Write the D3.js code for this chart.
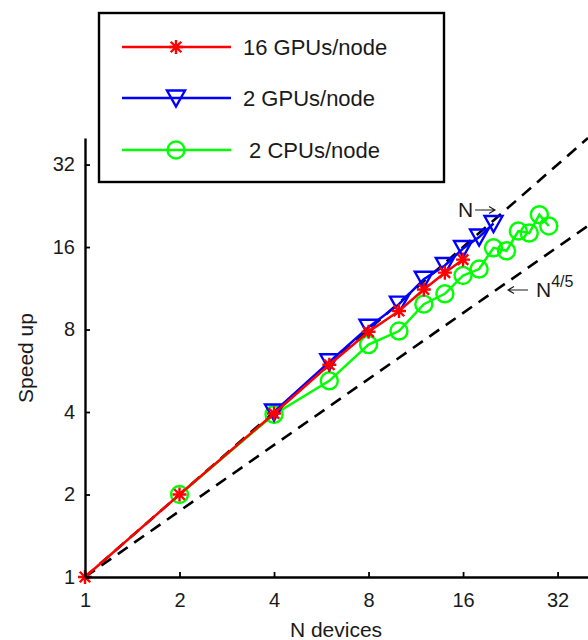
<!DOCTYPE html>
<html>
<head>
<meta charset="utf-8">
<script src="https://cdn.jsdelivr.net/npm/d3@7"></script>
<style>
  body { margin: 0; background: #fff; }
  svg { display: block; font-family: "Liberation Sans", Arial, sans-serif; }
  .tick text { fill: #1a1a1a; }
</style>
</head>
<body>
<svg id="chart" width="588" height="640"></svg>
<script>
// values
const ticks = [1, 2, 4, 8, 16, 32];

const gpu16X = [1, 2, 4, 6, 8, 10, 12, 14, 16];
const gpu16Y = [1, 2, 3.95, 5.95, 7.85, 9.35, 11.2, 12.9, 14.4];

const gpu2X = [4, 6, 8, 10, 12, 14, 16, 18, 20];
const gpu2Y = [4.0, 6.1, 8.15, 9.9, 12.2, 13.7, 15.8, 17.4, 19.5];

const cpu2X = [2, 4, 6, 8, 10, 12, 14, 16, 18, 20, 22, 24, 26, 28, 30];
const cpu2Y = [2, 3.92, 5.2, 7.05, 7.9, 9.9, 10.8, 12.6, 13.3, 15.9, 15.5, 18.3, 18.0, 21.0, 19.1];

const series = [
  { name: '16 GPUs/node', x: gpu16X, y: gpu16Y, color: '#ff0000', marker: 'star' },
  { name: '2 GPUs/node', x: gpu2X, y: gpu2Y, color: '#0000ff', marker: 'tri' },
  { name: ' 2 CPUs/node', x: cpu2X, y: cpu2Y, color: '#00ff00', marker: 'circle' },
];

const svg = d3.select('#chart');
const xScale = d3.scaleLog().base(2).domain([1, 40]).range([85, 588]);
const yScale = d3.scaleLog().base(2).domain([1, 40]).range([577, 138]);

// reference lines N and N^(4/5)
const refX = [1, 40];
const refLine = (p) => d3.line()
  .x((d) => xScale(d))
  .y((d) => yScale(Math.pow(d, p)));
[1, 0.8].forEach((p) => {
  svg.append('path')
    .datum(refX)
    .attr('d', refLine(p))
    .attr('fill', 'none')
    .attr('stroke', '#000')
    .attr('stroke-width', 2.6)
    .attr('stroke-dasharray', '12,8');
});

function drawMarker(g, type, color) {
  if (type === 'star') {
    const s = 7;
    const d = s * 0.75;
    g.append('path')
      .attr('d', `M0,${-s}V${s}M${-s},0H${s}M${-d},${-d}L${d},${d}M${-d},${d}L${d},${-d}`)
      .attr('stroke', color).attr('stroke-width', 2.4).attr('fill', 'none');
  } else if (type === 'tri') {
    g.append('path')
      .attr('d', 'M-9,-7.5L9,-7.5L0,8.5Z')
      .attr('stroke', color).attr('stroke-width', 2.4).attr('fill', 'none');
  } else {
    g.append('circle').attr('r', 8.5)
      .attr('stroke', color).attr('stroke-width', 2.4).attr('fill', 'none');
  }
}

const line = d3.line()
  .x((d) => xScale(d[0]))
  .y((d) => yScale(d[1]));

// draw in reverse so red ends up on top of the others, like the reference
series.slice().reverse().forEach((s) => {
  const pts = s.x.map((v, i) => [v, s.y[i]]);
  svg.append('path')
    .datum(pts)
    .attr('d', line)
    .attr('fill', 'none')
    .attr('stroke', s.color)
    .attr('stroke-width', 2.5);
  pts.forEach((p) => {
    const g = svg.append('g').attr('transform', `translate(${xScale(p[0])},${yScale(p[1])})`);
    drawMarker(g, s.marker, s.color);
  });
});

// axes
const xAxis = d3.axisBottom(xScale).tickValues(ticks).tickFormat(d3.format('d'))
  .tickSizeInner(-5).tickSizeOuter(0).tickPadding(16);
const yAxis = d3.axisLeft(yScale).tickValues(ticks).tickFormat(d3.format('d'))
  .tickSizeInner(-5).tickSizeOuter(0).tickPadding(10);

const gx = svg.append('g').attr('transform', 'translate(0,577)').call(xAxis);
const gy = svg.append('g').attr('transform', 'translate(85,0)').call(yAxis);
[gx, gy].forEach((g) => {
  g.select('.domain').attr('stroke', '#000').attr('stroke-width', 2.4);
  g.selectAll('.tick line').attr('stroke', '#000').attr('stroke-width', 1.8);
  g.selectAll('.tick text').attr('font-size', 20).attr('font-family', '"Liberation Sans", Arial, sans-serif');
});
gx.selectAll('.tick text').attr('dy', '0.71em');

// axis labels
svg.append('text')
  .attr('x', 336).attr('y', 637)
  .attr('text-anchor', 'middle')
  .attr('font-size', 21).attr('fill', '#1a1a1a')
  .text('N devices');
svg.append('text')
  .attr('transform', 'translate(33,358) rotate(-90)')
  .attr('text-anchor', 'middle')
  .attr('font-size', 21).attr('fill', '#1a1a1a')
  .text('Speed up');

// annotations
svg.append('text').attr('x', 458).attr('y', 217).attr('font-size', 21).attr('fill', '#1a1a1a').text('N');
svg.append('path').attr('d', 'M475,210H495M489,206.5L495,210L489,213.5')
  .attr('stroke', '#1a1a1a').attr('stroke-width', 1.1).attr('fill', 'none');
const t2 = svg.append('text').attr('x', 536).attr('y', 297).attr('font-size', 21).attr('fill', '#1a1a1a');
t2.append('tspan').text('N');
t2.append('tspan').attr('dy', -10).attr('font-size', 16).text('4/5');
svg.append('path').attr('d', 'M508,290H528M514,286.5L508,290L514,293.5')
  .attr('stroke', '#1a1a1a').attr('stroke-width', 1.1).attr('fill', 'none');

// legend
const legend = svg.append('g');
legend.append('rect')
  .attr('x', 99).attr('y', 13).attr('width', 345).attr('height', 169)
  .attr('fill', '#fff').attr('stroke', '#000').attr('stroke-width', 2.4);
const rowY = [47, 98, 150];
series.forEach((s, i) => {
  const y = rowY[i];
  legend.append('line')
    .attr('x1', 122).attr('x2', 231).attr('y1', y).attr('y2', y)
    .attr('stroke', s.color).attr('stroke-width', 2.5);
  const g = legend.append('g').attr('transform', `translate(176,${y})`);
  drawMarker(g, s.marker, s.color);
  legend.append('text')
    .attr('x', 243).attr('y', y + 8)
    .attr('font-size', 22).attr('fill', '#1a1a1a')
    .attr('xml:space', 'preserve')
    .style('white-space', 'pre')
    .text(s.name);
});
</script>
</body>
</html>
